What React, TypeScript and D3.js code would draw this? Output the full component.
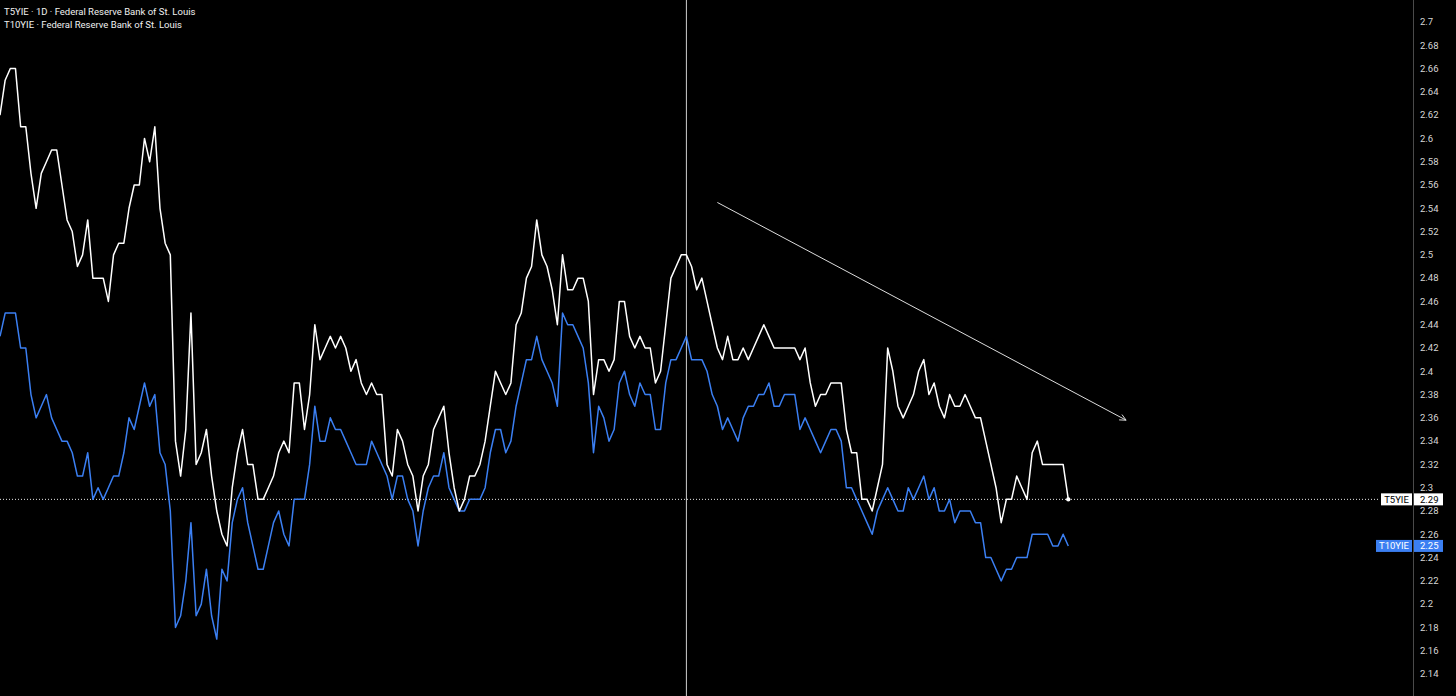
import React from "react";
import * as d3 from "d3";

// ---- data ----
const t5yie: number[] = [
  2.62, 2.65, 2.66, 2.66, 2.61, 2.61, 2.57, 2.54, 2.57, 2.58, 2.59, 2.59, 2.56, 2.53, 2.52, 2.49, 2.50, 2.53, 2.48, 2.48, 2.48, 2.46, 2.50, 2.51, 2.51, 2.54, 2.56, 2.56,
  2.60, 2.58, 2.61, 2.54, 2.51, 2.50, 2.34, 2.31, 2.35, 2.45, 2.32, 2.33, 2.35, 2.31, 2.28, 2.26, 2.25, 2.30, 2.33, 2.35, 2.32, 2.32, 2.29, 2.29, 2.30, 2.31,
  2.33, 2.34, 2.33, 2.39, 2.39, 2.35, 2.38, 2.44, 2.41, 2.42, 2.43, 2.42, 2.43, 2.42, 2.40, 2.41, 2.39, 2.38, 2.39, 2.38, 2.38, 2.32, 2.31, 2.35, 2.34, 2.32,
  2.31, 2.28, 2.31, 2.32, 2.35, 2.36, 2.37, 2.33, 2.30, 2.28, 2.29, 2.31, 2.31, 2.32, 2.34, 2.37, 2.40, 2.39, 2.38, 2.39, 2.44, 2.45, 2.48, 2.49, 2.53,
  2.50, 2.49, 2.47, 2.44, 2.50, 2.47, 2.47, 2.48, 2.48, 2.46, 2.38, 2.41, 2.41, 2.40, 2.41, 2.46, 2.46, 2.43, 2.42, 2.43, 2.42, 2.42, 2.39, 2.40, 2.44, 2.48, 2.49,
  2.50, 2.50, 2.49, 2.47, 2.48, 2.46, 2.44, 2.42, 2.41, 2.43, 2.41, 2.41, 2.42, 2.41, 2.42, 2.43, 2.44, 2.43, 2.42, 2.42, 2.42, 2.42, 2.42, 2.41, 2.42, 2.39, 2.37,
  2.38, 2.38, 2.39, 2.39, 2.39, 2.35, 2.33, 2.33, 2.29, 2.29, 2.28, 2.30, 2.32, 2.42, 2.40, 2.37, 2.36, 2.37, 2.38, 2.40, 2.41, 2.38, 2.39, 2.37, 2.36,
  2.38, 2.37, 2.37, 2.38, 2.37, 2.36, 2.36, 2.34, 2.32, 2.30, 2.27, 2.29, 2.29, 2.31, 2.30, 2.29, 2.33, 2.34, 2.32, 2.32, 2.32, 2.32, 2.32, 2.29,
];

const t10yie: number[] = [
  2.43, 2.45, 2.45, 2.45, 2.42, 2.42, 2.38, 2.36, 2.37, 2.38, 2.36, 2.35, 2.34, 2.34, 2.33, 2.31, 2.31, 2.33, 2.29, 2.30, 2.29, 2.30, 2.31, 2.31, 2.33, 2.36, 2.35, 2.37,
  2.39, 2.37, 2.38, 2.33, 2.32, 2.28, 2.18, 2.19, 2.22, 2.27, 2.19, 2.20, 2.23, 2.19, 2.17, 2.23, 2.22, 2.27, 2.29, 2.30, 2.27, 2.25, 2.23, 2.23, 2.25, 2.27,
  2.28, 2.26, 2.25, 2.29, 2.29, 2.29, 2.32, 2.37, 2.34, 2.34, 2.36, 2.35, 2.35, 2.34, 2.33, 2.32, 2.32, 2.32, 2.34, 2.33, 2.32, 2.31, 2.29, 2.31, 2.31, 2.29,
  2.28, 2.25, 2.28, 2.30, 2.31, 2.31, 2.33, 2.30, 2.29, 2.28, 2.28, 2.29, 2.29, 2.29, 2.30, 2.33, 2.35, 2.35, 2.33, 2.34, 2.37, 2.39, 2.41, 2.41, 2.43,
  2.41, 2.40, 2.39, 2.37, 2.45, 2.44, 2.44, 2.43, 2.42, 2.39, 2.33, 2.37, 2.36, 2.34, 2.35, 2.39, 2.40, 2.38, 2.37, 2.39, 2.38, 2.38, 2.35, 2.35, 2.39, 2.41, 2.41,
  2.42, 2.43, 2.41, 2.41, 2.41, 2.40, 2.38, 2.37, 2.35, 2.36, 2.35, 2.34, 2.36, 2.37, 2.37, 2.38, 2.38, 2.39, 2.37, 2.37, 2.38, 2.38, 2.38, 2.35, 2.36, 2.35, 2.34,
  2.33, 2.34, 2.35, 2.35, 2.34, 2.30, 2.30, 2.29, 2.28, 2.27, 2.26, 2.28, 2.29, 2.30, 2.29, 2.28, 2.28, 2.30, 2.29, 2.30, 2.31, 2.29, 2.30, 2.28, 2.28,
  2.29, 2.27, 2.28, 2.28, 2.28, 2.27, 2.27, 2.24, 2.24, 2.23, 2.22, 2.23, 2.23, 2.24, 2.24, 2.24, 2.26, 2.26, 2.26, 2.26, 2.25, 2.25, 2.26, 2.25,
];

const yTicks: number[] = [
  2.7, 2.68, 2.66, 2.64, 2.62, 2.6, 2.58, 2.56, 2.54, 2.52, 2.5, 2.48, 2.46, 2.44, 2.42, 2.4,
  2.38, 2.36, 2.34, 2.32, 2.3, 2.28, 2.26, 2.24, 2.22, 2.2, 2.18, 2.16, 2.14,
];

const legendLines: string[] = [
  "T5YIE · 1D · Federal Reserve Bank of St. Louis",
  "T10YIE · Federal Reserve Bank of St. Louis",
];

const seriesNames: string[] = ["T5YIE", "T10YIE"];
const crosshairIndex = 133;
// trend arrow drawn in data space: [index, value]
const arrowFrom: [number, number] = [139, 2.545];
const arrowTo: [number, number] = [218.2, 2.358];

// ---- layout ----
const W = 1456;
const H = 696;
const AXIS_X = 1413;
const WHITE = "#ffffff";
const BLUE = "#3b7ff2";
const FONT = "Roboto, 'Noto Sans', sans-serif";

export default function App() {
  const n = t5yie.length;
  const x = d3.scaleLinear().domain([0, n - 1]).range([0, 1068.3]);
  const y = d3.scaleLinear().domain([2.14, 2.7]).range([674, 22]);

  const line = d3
    .line<number>()
    .x((_, i) => x(i))
    .y((d) => y(d));

  const last5 = t5yie[n - 1];
  const last10 = t10yie[t10yie.length - 1];
  const fmt = (v: number) => String(Math.round(v * 100) / 100);

  const ax1 = x(arrowFrom[0]);
  const ay1 = y(arrowFrom[1]);
  const ax2 = x(arrowTo[0]);
  const ay2 = y(arrowTo[1]);
  const ang = Math.atan2(ay2 - ay1, ax2 - ax1);
  const headLen = 7;
  const headA = Math.PI / 7;
  const h1x = ax2 - headLen * Math.cos(ang - headA);
  const h1y = ay2 - headLen * Math.sin(ang - headA);
  const h2x = ax2 - headLen * Math.cos(ang + headA);
  const h2y = ay2 - headLen * Math.sin(ang + headA);

  const y5 = y(last5);
  const y10 = y(last10);

  return (
    <svg
      width={W}
      height={H}
      style={{ position: "absolute", left: 0, top: 0, display: "block", background: "#000" }}
    >
      <rect x={0} y={0} width={W} height={H} fill="#000" />

      {/* crosshair */}
      <line
        x1={x(crosshairIndex)}
        x2={x(crosshairIndex)}
        y1={0}
        y2={H}
        stroke="#cfcfcf"
        strokeWidth={1}
      />

      {/* last value dotted line */}
      <line
        x1={0}
        x2={1380}
        y1={y5}
        y2={y5}
        stroke="#e8e8e8"
        strokeWidth={1}
        strokeDasharray="1,2"
      />

      {/* series */}
      <path d={line(t10yie) || ""} fill="none" stroke={BLUE} strokeWidth={1.5} strokeLinejoin="round" />
      <path d={line(t5yie) || ""} fill="none" stroke={WHITE} strokeWidth={1.5} strokeLinejoin="round" />
      <circle cx={x(n - 1)} cy={y5} r={2.2} fill={WHITE} />

      {/* trend arrow */}
      <line x1={ax1} y1={ay1} x2={ax2} y2={ay2} stroke="#dcdcdc" strokeWidth={1} />
      <polyline
        points={`${h1x},${h1y} ${ax2},${ay2} ${h2x},${h2y}`}
        fill="none"
        stroke="#dcdcdc"
        strokeWidth={1}
      />

      {/* right axis */}
      <line x1={AXIS_X + 0.5} x2={AXIS_X + 0.5} y1={0} y2={H} stroke="#4a4a4a" strokeWidth={1} />
      {yTicks.map((t) => (
        <text
          key={t}
          x={1420}
          y={y(t)}
          dy="0.35em"
          fill="#d6d6d6"
          fontSize={9.5}
          fontFamily={FONT}
        >
          {fmt(t)}
        </text>
      ))}

      {/* T5YIE labels */}
      <rect x={1381} y={y5 - 6} width={31} height={12} fill="#ffffff" />
      <text x={1396.5} y={y5} dy="0.35em" textAnchor="middle" fill="#000" fontSize={9.5} fontFamily={FONT}>
        {seriesNames[0]}
      </text>
      <rect x={1414} y={y5 - 6} width={29} height={12} fill="#ffffff" />
      <text x={1420} y={y5} dy="0.35em" fill="#000" fontSize={9.5} fontFamily={FONT}>
        {fmt(last5)}
      </text>

      {/* T10YIE labels */}
      <rect x={1376} y={y10 - 6} width={36} height={12} fill={BLUE} />
      <text x={1394} y={y10} dy="0.35em" textAnchor="middle" fill="#fff" fontSize={9.5} fontFamily={FONT}>
        {seriesNames[1]}
      </text>
      <rect x={1414} y={y10 - 6} width={29} height={12} fill={BLUE} />
      <text x={1420} y={y10} dy="0.35em" fill="#fff" fontSize={9.5} fontFamily={FONT}>
        {fmt(last10)}
      </text>

      {/* legend */}
      {legendLines.map((s, i) => (
        <text key={s} x={4} y={15 + i * 12.5} fill="#f0f0f0" fontSize={9.5} fontFamily={FONT}>
          {s}
        </text>
      ))}
    </svg>
  );
}
